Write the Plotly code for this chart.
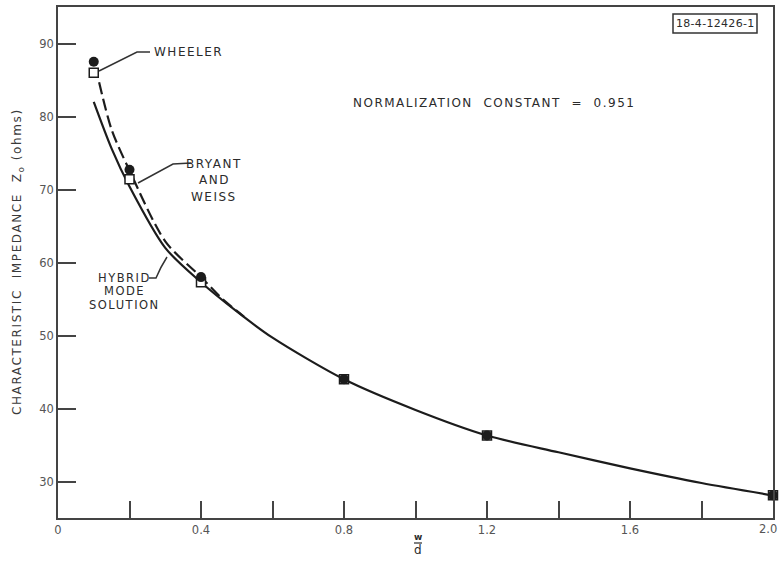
import plotly.graph_objects as go

# Characteristic impedance Z0 (ohms) versus strip width ratio w/d
hybrid_w = [0.1, 0.15, 0.2, 0.3, 0.4, 0.5, 0.6, 0.8, 1.0, 1.2, 1.4, 1.6, 1.8, 2.0]
hybrid_z = [82.0, 75.6, 70.4, 62.0, 57.3, 53.3, 49.7, 44.0, 39.8, 36.3, 34.0, 31.8, 29.8, 28.1]

dashed_w = [0.115, 0.15, 0.2, 0.3, 0.4, 0.46, 0.52]
dashed_z = [84.7, 78.2, 72.6, 62.9, 58.0, 55.0, 52.6]

point_w = [0.1, 0.2, 0.4, 0.8, 1.2, 2.0]
filled_z = [87.5, 72.7, 58.0, 44.0, 36.3, 28.1]
open_z = [86.0, 71.4, 57.3, 44.0, 36.3, 28.1]

# the last label (2.0) sits at the frame edge and is placed separately
x_ticks = [0.0, 0.4, 0.8, 1.2, 1.6]
x_tick_text = ["0", "0.4", "0.8", "1.2", "1.6"]
x_end_label = "2.0"
y_ticks = [30, 40, 50, 60, 70, 80, 90]

X_RANGE = [0.0, 2.0]
Y_RANGE = [25.0, 95.0]
W, H = 781, 570
ML, MR, MT, MB = 58, 8, 7, 52
PW, PH = W - ML - MR, H - MT - MB

INK = "#1c1c1c"
TXT = "#2b2b2b"
FONT = "DejaVu Sans"


def px_x(px):
    return X_RANGE[0] + (px - ML) / PW * (X_RANGE[1] - X_RANGE[0])


def px_y(py):
    return Y_RANGE[0] + (MT + PH - py) / PH * (Y_RANGE[1] - Y_RANGE[0])


def paper_x(px):
    return (px - ML) / PW


def paper_y(py):
    return (MT + PH - py) / PH


def spaced(s, ls=1.5):
    return f'<span style="letter-spacing:{ls}px">{s}</span>'


fig = go.Figure()

fig.add_trace(go.Scatter(
    x=hybrid_w, y=hybrid_z, mode="lines",
    line=dict(color=INK, width=2.2, shape="spline", smoothing=0.8),
    cliponaxis=False, showlegend=False, hoverinfo="skip"))

fig.add_trace(go.Scatter(
    x=dashed_w, y=dashed_z, mode="lines",
    line=dict(color=INK, width=2.2, shape="spline", smoothing=0.8, dash="12px,5px"),
    cliponaxis=False, showlegend=False, hoverinfo="skip"))

fig.add_trace(go.Scatter(
    x=point_w, y=open_z, mode="markers",
    marker=dict(symbol="square", size=9, color="white", line=dict(color=INK, width=1.5)),
    cliponaxis=False, showlegend=False))

fig.add_trace(go.Scatter(
    x=point_w, y=filled_z, mode="markers",
    marker=dict(symbol="circle", size=10, color=INK, line=dict(width=0)),
    cliponaxis=False, showlegend=False))

annotations = []
shapes = []


def label(text, px, py, size=12, anchor="left", ls=1.5, angle=0, color=TXT, family=FONT):
    annotations.append(dict(
        x=paper_x(px), y=paper_y(py), xref="paper", yref="paper", text=spaced(text, ls),
        showarrow=False, xanchor=anchor, yanchor="middle", textangle=angle,
        font=dict(family=family, size=size, color=color)))


def leader(points):
    path = "M " + " L ".join(f"{px_x(a)},{px_y(b)}" for a, b in points)
    shapes.append(dict(type="path", xref="x", yref="y", path=path,
                       line=dict(color="#333", width=1.5)))


# Curve labels with leader lines
label("WHEELER", 152, 52)
leader([(99, 71), (137, 52), (150, 52)])

label("BRYANT", 214, 164, anchor="center")
label("AND", 214, 180, anchor="center")
label("WEISS", 214, 197, anchor="center")
leader([(138, 183), (173, 164), (191, 163)])

label("HYBRID", 124, 278, size=11.5, anchor="center")
label("MODE", 124, 291, size=11.5, anchor="center")
label("SOLUTION", 124, 305, size=11.5, anchor="center")
shapes.append(dict(
    type="path", xref="x", yref="y",
    path=(f"M {px_x(149)},{px_y(278)} L {px_x(156)},{px_y(278)} "
          f"Q {px_x(160)},{px_y(268)} {px_x(167)},{px_y(257)}"),
    line=dict(color="#333", width=1.5)))

# Normalization note
label("NORMALIZATION&nbsp;&nbsp;CONSTANT&nbsp;&nbsp;=&nbsp;&nbsp;0.951", 494, 103,
      anchor="center", ls=1.5)

# Drawing number tag
label("18-4-12426-1", 715, 23.5, size=11, anchor="center", ls=0.3)
shapes.append(dict(type="rect", xref="paper", yref="paper",
                   x0=paper_x(673), x1=paper_x(757), y0=paper_y(33), y1=paper_y(14),
                   line=dict(color="#333", width=1.5)))

# Axis titles
label("CHARACTERISTIC&nbsp;&nbsp;IMPEDANCE&nbsp;&nbsp;Z<sub>o</sub> (ohms)", 18, 262,
      anchor="center", ls=1.6, angle=-90, color="#3a3a3a")

label("<b>w</b>", 418, 537, size=9, anchor="center", ls=0)
label("d", 418, 550, size=12, anchor="center", ls=0)
shapes.append(dict(type="line", xref="paper", yref="paper",
                   x0=paper_x(414), x1=paper_x(422), y0=paper_y(543), y1=paper_y(543),
                   line=dict(color=TXT, width=1.2)))

# End-of-axis tick label, nudged left so it stays inside the page
label(x_end_label, 768, 529, size=11.5, anchor="center", ls=0, color="#555")

axis_common = dict(
    showgrid=False, zeroline=False, showline=True, mirror=True,
    linecolor="#444", linewidth=1.6, ticks="inside", tickcolor="#444",
    tickwidth=1.6, tickfont=dict(family=FONT, size=11.5, color="#555"),
    automargin=False)

fig.update_layout(
    width=W, height=H,
    margin=dict(l=ML, r=MR, t=MT, b=MB),
    paper_bgcolor="white", plot_bgcolor="white",
    xaxis=dict(range=X_RANGE, tickmode="array", tickvals=x_ticks,
               ticktext=x_tick_text, ticklen=17,
               minor=dict(ticks="inside", ticklen=17, tick0=0, dtick=0.2,
                          tickcolor="#444", tickwidth=1.6, showgrid=False),
               **axis_common),
    yaxis=dict(range=Y_RANGE, tickmode="array", tickvals=y_ticks,
               ticklen=18, **axis_common),
    annotations=annotations, shapes=shapes,
)

fig.write_html("out.html")
